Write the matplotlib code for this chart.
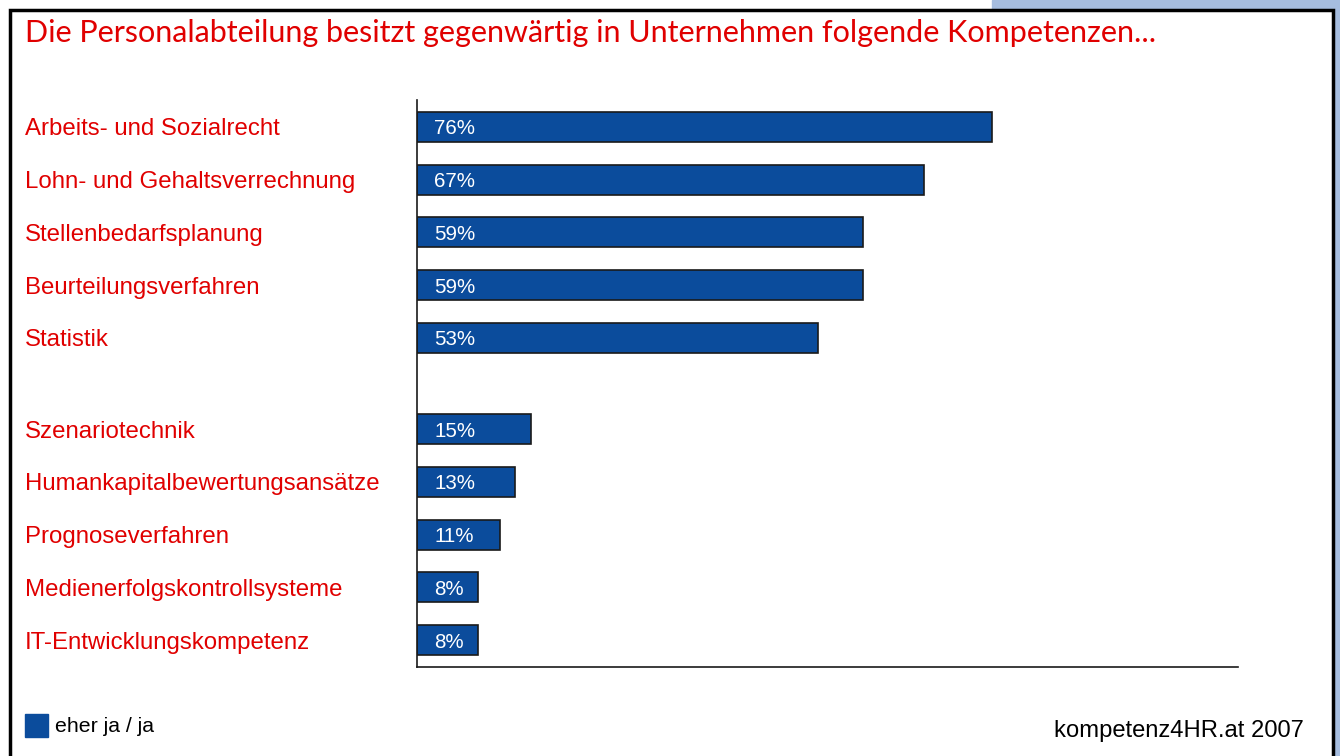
import matplotlib.pyplot as plt
from matplotlib.patches import Rectangle

kompetenzen = ['Arbeits- und Sozialrecht', 'Lohn- und Gehaltsverrechnung',
               'Stellenbedarfsplanung', 'Beurteilungsverfahren', 'Statistik',
               'Szenariotechnik', 'Humankapitalbewertungsansätze',
               'Prognoseverfahren', 'Medienerfolgskontrollsysteme',
               'IT-Entwicklungskompetenz']
anteil = [76, 67, 59, 59, 53, 15, 13, 11, 8, 8]

BLAU = '#0B4C9C'
ROT = '#E00000'

# zwei Gruppen mit etwas Abstand dazwischen
pos = [i if i < 5 else i + 0.725 for i in range(len(anteil))]

fig = plt.figure(figsize=(13.4, 7.56), dpi=100)
W, H = 1340, 756

# Hintergrund / Rahmen
fig.patches.append(Rectangle((992 / W, 1 - 9 / H), 1 - 992 / W, 9 / H,
                             transform=fig.transFigure, color='#A6BDDF', zorder=0))
fig.patches.append(Rectangle((1335 / W, 0), 5 / W, 1,
                             transform=fig.transFigure, color='#A6BDDF', zorder=0))
fig.patches.append(Rectangle((10 / W, -0.05), 1323 / W, 1.05 - 10 / H,
                             transform=fig.transFigure, fill=False,
                             edgecolor='black', linewidth=2.5, zorder=1))

ax = fig.add_axes([417 / W, 1 - 667 / H, (1238 - 417) / W, (667 - 100) / H])
ax.barh(pos, anteil, height=0.57, color=BLAU, edgecolor='#1a1a1a', linewidth=1.2)
for p, v in zip(pos, anteil):
    ax.text(2.3, p, f'{v}%', color='white', fontsize=14.8, va='center_baseline',
            family='Liberation Sans')

ax.set_xlim(0, 108.5)
ax.set_ylim(pos[-1] + 0.51, -0.51)
ax.set_xticks([])
ax.set_yticks([])
for s in ['top', 'right']:
    ax.spines[s].set_visible(False)
for s in ['left', 'bottom']:
    ax.spines[s].set_linewidth(1.2)
    ax.spines[s].set_color('#1a1a1a')

# Kategorien links, rot
for p, name in zip(pos, kompetenzen):
    ax.annotate(name, xy=(0, p), xycoords=('figure fraction', 'data'),
                xytext=(25 / W, 0), textcoords=('figure fraction', 'offset points'),
                color=ROT, fontsize=17.3, va='center_baseline', family='Liberation Sans')

fig.text(25 / W, 1 - 33 / H, 'Die Personalabteilung besitzt gegenwärtig in Unternehmen folgende Kompetenzen...',
         color=ROT, fontsize=22, va='center', family='Lato')

# Legende
fig.patches.append(Rectangle((25 / W, 1 - 737 / H), 23 / W, 23 / H,
                             transform=fig.transFigure, color=BLAU))
fig.text(55 / W, 1 - 726 / H, 'eher ja / ja', fontsize=15.3, va='center',
         family='Liberation Sans')

fig.text(1304 / W, 1 - 731 / H, 'kompetenz4HR.at 2007', fontsize=17.1, va='center',
         ha='right', family='Liberation Sans')

fig.savefig('out.png', dpi=100)
